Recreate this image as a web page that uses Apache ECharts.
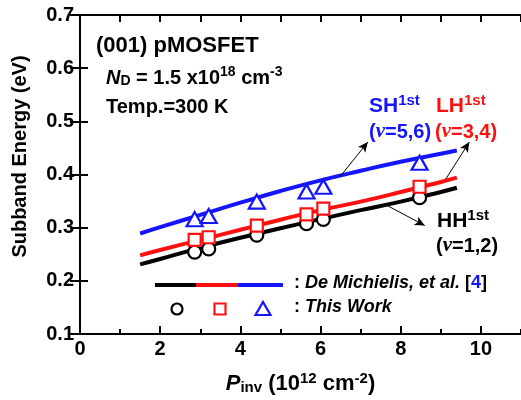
<!DOCTYPE html>
<html>
<head>
<meta charset="utf-8">
<script src="https://cdn.jsdelivr.net/npm/echarts@6/dist/echarts.min.js"></script>
<style>html,body{margin:0;padding:0;background:#fff;}#c{width:521px;height:400px;}</style>
</head>
<body>
<div id="c"></div>
<script>
// ---- data ----
var lineX = [1.5, 2, 3, 4, 5, 6, 7, 8, 9, 9.4];
var hhLine = [0.231, 0.241, 0.262, 0.281, 0.299, 0.316, 0.333, 0.349, 0.367, 0.375];
var lhLine = [0.248, 0.258, 0.277, 0.296, 0.315, 0.333, 0.349, 0.367, 0.386, 0.394];
var shLine = [0.289, 0.301, 0.324, 0.347, 0.369, 0.389, 0.407, 0.424, 0.439, 0.445];
var pinv = [2.86, 3.21, 4.41, 5.65, 6.07, 8.47];
var hhPts = [0.254, 0.260, 0.286, 0.3075, 0.3155, 0.3565];
var lhPts = [0.277, 0.282, 0.304, 0.325, 0.336, 0.377];
var shPts = [0.316, 0.322, 0.349, 0.368, 0.377, 0.422];
// annotation arrows [from, to] in data coordinates
var shArrow = [[6.49, 0.3965], [7.18, 0.461]];
var lhArrow = [[9.12, 0.391], [9.71, 0.461]];
var hhArrow = [[7.68, 0.341], [8.60, 0.304]];

function pairs(xs, ys) { return xs.map(function (x, i) { return [x, ys[i]]; }); }

var BLUE = '#1414ff', RED = '#ff1010', BLACK = '#000';
var FONT = '"Liberation Sans", Arial, sans-serif';
var SERIF = '"Liberation Serif", "Times New Roman", serif';

var chart = echarts.init(document.getElementById('c'), null, {renderer: 'canvas'});

function arrowLine(a) {
  return [{coord: a[0]}, {coord: a[1]}];
}

var option = {
  animation: false,
  backgroundColor: '#fff',
  grid: {left: 80, top: 15, width: 443, height: 326, containLabel: false},
  xAxis: [
    {
      type: 'value', position: 'bottom', min: 0, max: 11, interval: 2,
      axisLine: {lineStyle: {color: BLACK, width: 2}},
      axisTick: {inside: true, length: 8, lineStyle: {color: BLACK, width: 2}},
      axisLabel: {color: BLACK, fontSize: 20, fontWeight: 'bold', fontFamily: FONT, margin: 5, showMaxLabel: false},
      splitLine: {show: false},
      name: '{pi|P}{sub|inv}{n| (10}{sup|12}{n| cm}{sup|-2}{n|)}',
      nameLocation: 'middle', nameGap: 37,
      nameTextStyle: {
        color: BLACK, fontFamily: FONT,
        rich: {
          pi: {fontSize: 22, fontStyle: 'italic', fontWeight: 'bold', fontFamily: FONT, color: BLACK, verticalAlign: 'bottom'},
          sub: {fontSize: 15, fontWeight: 'bold', fontFamily: FONT, color: BLACK, padding: [9, 0, 0, 0], verticalAlign: 'bottom'},
          n: {fontSize: 22, fontWeight: 'bold', fontFamily: FONT, color: BLACK, verticalAlign: 'bottom'},
          sup: {fontSize: 15, fontWeight: 'bold', fontFamily: FONT, color: BLACK, padding: [0, 0, 9, 0], verticalAlign: 'bottom'}
        }
      }
    },
    {
      type: 'value', position: 'bottom', min: 0, max: 11, interval: 1,
      axisLine: {show: false},
      axisTick: {inside: true, length: 5, lineStyle: {color: BLACK, width: 2}},
      axisLabel: {show: false}, splitLine: {show: false}
    },
    {
      type: 'value', position: 'top', min: 0, max: 11, interval: 1,
      axisLine: {show: true, lineStyle: {color: BLACK, width: 2}},
      axisTick: {inside: true, length: 7, lineStyle: {color: BLACK, width: 2}},
      axisLabel: {show: false}, splitLine: {show: false}
    }
  ],
  yAxis: [
    {
      type: 'value', position: 'left', min: 0.1, max: 0.7, interval: 0.1,
      axisLine: {show: true, lineStyle: {color: BLACK, width: 2}},
      axisTick: {show: true, inside: true, length: 8, lineStyle: {color: BLACK, width: 2}},
      axisLabel: {color: BLACK, fontSize: 20, fontWeight: 'bold', fontFamily: FONT, margin: 6,
        formatter: function (v) { return v.toFixed(1); }},
      splitLine: {show: false},
      name: 'Subband Energy (eV)', nameLocation: 'middle', nameGap: 50, nameRotate: 90,
      nameTextStyle: {color: BLACK, fontSize: 20, fontWeight: 'bold', fontFamily: FONT, padding: [0, 0, 0, 36]}
    },
    {
      type: 'value', position: 'right', min: 0.1, max: 0.7, interval: 0.1,
      axisLine: {show: true, lineStyle: {color: BLACK, width: 2}},
      axisTick: {show: true, inside: true, length: 10, lineStyle: {color: BLACK, width: 2}},
      axisLabel: {show: false}, splitLine: {show: false}
    }
  ],
  series: [
    {type: 'line', name: 'HH', data: pairs(lineX, hhLine), smooth: true, showSymbol: false,
      lineStyle: {color: BLACK, width: 4}, z: 2,
      markLine: {silent: true, symbol: ['none', 'arrow'], symbolSize: [7, 10], label: {show: false},
        lineStyle: {color: BLACK, width: 1, type: 'solid'},
        data: [arrowLine(hhArrow)]}},
    {type: 'line', name: 'LH', data: pairs(lineX, lhLine), smooth: true, showSymbol: false,
      lineStyle: {color: RED, width: 4}, z: 2,
      markLine: {silent: true, symbol: ['none', 'arrow'], symbolSize: [7, 10], label: {show: false},
        lineStyle: {color: BLACK, width: 1, type: 'solid'}, itemStyle: {color: BLACK},
        data: [arrowLine(lhArrow)]}},
    {type: 'line', name: 'SH', data: pairs(lineX, shLine), smooth: true, showSymbol: false,
      lineStyle: {color: BLUE, width: 4}, z: 2,
      markLine: {silent: true, symbol: ['none', 'arrow'], symbolSize: [7, 10], label: {show: false},
        lineStyle: {color: BLACK, width: 1, type: 'solid'}, itemStyle: {color: BLACK},
        data: [arrowLine(shArrow)]}},
    {type: 'scatter', name: 'HH pts', data: pairs(pinv, hhPts), symbol: 'circle', symbolSize: 13,
      itemStyle: {color: '#fff', borderColor: BLACK, borderWidth: 2.2, opacity: 1}, z: 5},
    {type: 'scatter', name: 'LH pts', data: pairs(pinv, lhPts), symbol: 'rect', symbolSize: 12,
      itemStyle: {color: '#fff', borderColor: RED, borderWidth: 2.2, opacity: 1}, z: 5},
    {type: 'scatter', name: 'SH pts', data: pairs(pinv, shPts), symbol: 'triangle', symbolSize: [16, 14],
      itemStyle: {color: '#fff', borderColor: BLUE, borderWidth: 2.2, opacity: 1}, z: 5}
  ],
  graphic: [
    {type: 'text', left: 96, top: 35, z: 10, style: {text: '(001) pMOSFET', font: 'bold 22px ' + FONT, fill: BLACK}},
    {type: 'text', left: 106, top: 65, z: 10, style: {
      text: '{i|N}{sub|D}{n| = 1.5 x10}{sup|18}{n| cm}{sup|-3}',
      rich: {
        i: {font: 'italic bold 20px ' + FONT, fill: BLACK, verticalAlign: 'bottom'},
        sub: {font: 'bold 14px ' + FONT, fill: BLACK, padding: [7, 0, 0, 0], verticalAlign: 'bottom'},
        n: {font: 'bold 20px ' + FONT, fill: BLACK, verticalAlign: 'bottom'},
        sup: {font: 'bold 14px ' + FONT, fill: BLACK, padding: [0, 0, 9, 0], verticalAlign: 'bottom'}
      }}},
    {type: 'text', left: 106, top: 97, z: 10, style: {text: 'Temp.=300 K', font: 'bold 20px ' + FONT, fill: BLACK}},

    {type: 'text', left: 369, top: 93, z: 10, style: {
      text: '{n|SH}{sup|1st}', rich: {
        n: {font: 'bold 21px ' + FONT, fill: BLUE, verticalAlign: 'bottom'},
        sup: {font: 'bold 15px ' + FONT, fill: BLUE, padding: [0, 0, 9, 0], verticalAlign: 'bottom'}}}},
    {type: 'text', left: 369, top: 121, z: 10, style: {
      text: '{n|(}{g|ν}{n|=5,6)}', rich: {
        n: {font: 'bold 20px ' + FONT, fill: BLUE, verticalAlign: 'bottom'},
        g: {font: 'italic bold 21px ' + SERIF, fill: BLUE, verticalAlign: 'bottom'}}}},
    {type: 'text', left: 436, top: 93, z: 10, style: {
      text: '{n|LH}{sup|1st}', rich: {
        n: {font: 'bold 21px ' + FONT, fill: RED, verticalAlign: 'bottom'},
        sup: {font: 'bold 15px ' + FONT, fill: RED, padding: [0, 0, 9, 0], verticalAlign: 'bottom'}}}},
    {type: 'text', left: 435, top: 121, z: 10, style: {
      text: '{n|(}{g|ν}{n|=3,4)}', rich: {
        n: {font: 'bold 20px ' + FONT, fill: RED, verticalAlign: 'bottom'},
        g: {font: 'italic bold 21px ' + SERIF, fill: RED, verticalAlign: 'bottom'}}}},
    {type: 'text', left: 437, top: 208, z: 10, style: {
      text: '{n|HH}{sup|1st}', rich: {
        n: {font: 'bold 21px ' + FONT, fill: BLACK, verticalAlign: 'bottom'},
        sup: {font: 'bold 15px ' + FONT, fill: BLACK, padding: [0, 0, 9, 0], verticalAlign: 'bottom'}}}},
    {type: 'text', left: 436, top: 235, z: 10, style: {
      text: '{n|(}{g|ν}{n|=1,2)}', rich: {
        n: {font: 'bold 20px ' + FONT, fill: BLACK, verticalAlign: 'bottom'},
        g: {font: 'italic bold 21px ' + SERIF, fill: BLACK, verticalAlign: 'bottom'}}}},

    // legend
    {type: 'line', z: 10, shape: {x1: 155, y1: 285, x2: 196, y2: 285}, style: {stroke: BLACK, lineWidth: 4}},
    {type: 'line', z: 10, shape: {x1: 196, y1: 285, x2: 238, y2: 285}, style: {stroke: RED, lineWidth: 4}},
    {type: 'line', z: 10, shape: {x1: 238, y1: 285, x2: 283, y2: 285}, style: {stroke: BLUE, lineWidth: 4}},
    {type: 'text', left: 294, top: 274, z: 10, style: {
      text: '{n|: }{i|De Michielis, et al.}{n| [}{b|4}{n|]}', rich: {
        n: {font: 'bold 18px ' + FONT, fill: BLACK},
        i: {font: 'italic bold 18px ' + FONT, fill: BLACK},
        b: {font: 'bold 18px ' + FONT, fill: BLUE}}}},
    {type: 'circle', z: 10, shape: {cx: 177, cy: 309, r: 5.5}, style: {fill: '#fff', stroke: BLACK, lineWidth: 2.2}},
    {type: 'rect', z: 10, shape: {x: 214.5, y: 303.5, width: 11, height: 11}, style: {fill: '#fff', stroke: RED, lineWidth: 2.2}},
    {type: 'polygon', z: 10, shape: {points: [[263, 302], [270.5, 315], [255.5, 315]]}, style: {fill: '#fff', stroke: BLUE, lineWidth: 2.2}},
    {type: 'text', left: 294, top: 298, z: 10, style: {
      text: '{n|: }{i|This Work}', rich: {
        n: {font: 'bold 18px ' + FONT, fill: BLACK},
        i: {font: 'italic bold 18px ' + FONT, fill: BLACK}}}}
  ]
};
chart.setOption(option);
</script>
</body>
</html>
